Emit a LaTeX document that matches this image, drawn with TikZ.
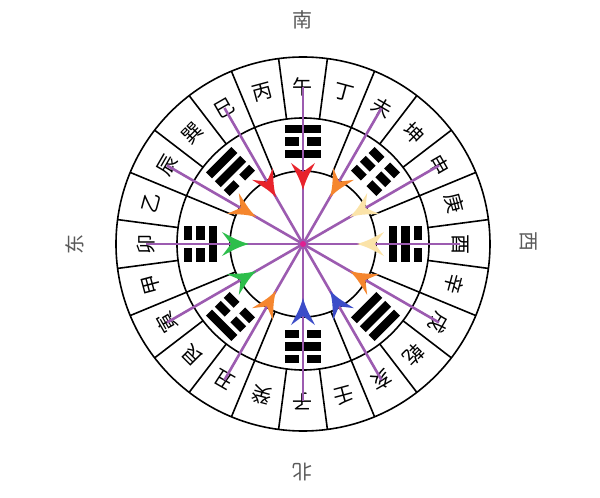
\documentclass[tikz,border=0pt]{standalone}
\usepackage{fontspec}
\newfontfamily\cjk{Noto Sans CJK SC}
\definecolor{purp}{HTML}{9C5BB0}
\definecolor{cRed}{HTML}{E8232B}
\definecolor{cOrg}{HTML}{F5862E}
\definecolor{cGrn}{HTML}{2DBE4B}
\definecolor{cBlu}{HTML}{3B4CC8}
\definecolor{cYel}{HTML}{FBE3A8}
\definecolor{dirgray}{HTML}{5A5A5A}
\tikzset{
  ring/.style={draw=black, line width=1.6pt},
  mt/.style={font=\cjk\fontsize{20}{20}\selectfont, inner sep=0pt},
  dirlab/.style={font=\cjk\fontsize{20}{20}\selectfont, text=dirgray, inner sep=0pt},
  ray/.style={draw=purp, line width=2.6pt},
  bar/.style={fill=black}
}
\begin{document}
\begin{tikzpicture}[x=1pt,y=1pt]
\useasboundingbox[fill=white] (-303,-254) rectangle (297,244);
\coordinate (c) at (0,0);
% circles
\draw[ring] (c) circle (187);
\draw[ring] (c) circle (126);
\draw[ring] (c) circle (73);
% dividers
\foreach \j in {0,...,7}{
  \pgfmathsetmacro\t{90-45*\j}
  \draw[ring] (\t+7.5:126) -- (\t+7.5:187);
  \draw[ring] (\t-7.5:126) -- (\t-7.5:187);
  \draw[ring] (\t+22.5:73) -- (\t+22.5:187);
}
% trigrams: inner (bottom) -> outer (top)
\foreach \t/\ya/\yb/\yc in {90/1/0/1, 45/0/0/0, 0/1/1/0, -45/1/1/1, -90/0/1/0, -135/0/0/1, 180/1/0/0, 135/0/1/1}{
  \pgfmathsetmacro\rr{\t-90}
  \begin{scope}[rotate=\rr]
    \foreach \r/\y in {90/\ya, 102.5/\yb, 115/\yc}{
      \ifnum\y=1
        \fill[bar] (-18,\r-4.2) rectangle (18,\r+4.2);
      \else
        \fill[bar] (-18,\r-4.2) rectangle (-4,\r+4.2);
        \fill[bar] (4,\r-4.2) rectangle (18,\r+4.2);
      \fi
    }
  \end{scope}
}
% mountains
\foreach \n [count=\i from 0] in {午,丁,未,坤,申,庚,酉,辛,戌,乾,亥,壬,子,癸,丑,艮,寅,甲,卯,乙,辰,巽,巳,丙}{
  \pgfmathsetmacro\a{90-15*\i}
  \pgfmathsetmacro\rr{\a-90}
  \node[mt, rotate=\rr] (m\i) at (\a:157) {\n};
}
% rays and arrowheads
\foreach \i/\col in {0/cRed, 2/cOrg, 4/cYel, 6/cYel, 8/cOrg, 10/cBlu, 12/cBlu, 14/cOrg, 16/cGrn, 18/cGrn, 20/cOrg, 22/cRed}{
  \pgfmathsetmacro\a{90-15*\i}
  \draw[ray] (c) -- (m\i.center);
  \begin{scope}[rotate=\a]
    \fill[\col] (54,0) .. controls (64,3) .. (81,12) -- (72,0) -- (81,-12) .. controls (64,-3) .. cycle;
  \end{scope}
}
\fill[magenta!80!purp] (c) circle (3);
% directions
\node[dirlab] (s) at (0,224) {南};
\node[dirlab, rotate=180] (n) at (0,-228) {北};
\node[dirlab, rotate=90] (e) at (-228,0) {东};
\node[dirlab, rotate=-90] (w) at (225,3) {西};
\end{tikzpicture}
\end{document}
